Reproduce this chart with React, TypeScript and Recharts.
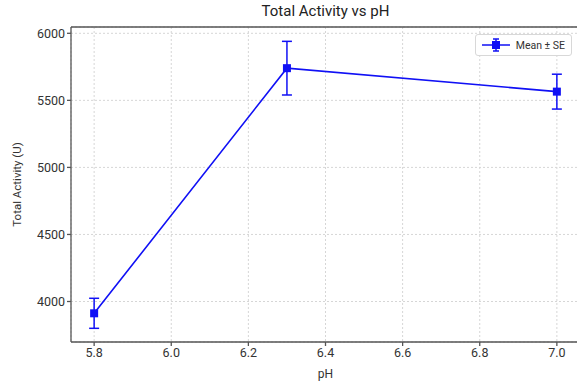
import {
  CartesianGrid,
  ErrorBar,
  Line,
  LineChart,
  ReferenceLine,
  XAxis,
  YAxis,
} from "recharts";

const phValues = [5.8, 6.3, 7.0];
const meanActivity = [3912, 5740, 5565];
const seActivity = [112, 200, 130];
const xTicks = [5.8, 6.0, 6.2, 6.4, 6.6, 6.8, 7.0];
const yTicks = [4000, 4500, 5000, 5500, 6000];
const xDomain = [5.74, 7.06];
const yDomain = [3698, 6047];

const data = phValues.map((ph, i) => ({ ph, mean: meanActivity[i], se: seActivity[i] }));

const BLUE = "#1010f5";
const FONT = "Roboto, 'Open Sans', sans-serif";

function SquareDot(props: { cx?: number; cy?: number }) {
  const { cx, cy } = props;
  if (cx == null || cy == null) return null;
  return <rect x={cx - 4} y={cy - 4} width={8} height={8} fill={BLUE} />;
}

function LegendBox() {
  return (
    <div
      style={{
        position: "absolute",
        top: 34,
        right: 5,
        display: "flex",
        alignItems: "center",
        border: "1px solid #d8d8d8",
        borderRadius: 3,
        background: "#fff",
        padding: "3px 6px",
        fontSize: 10.5,
        color: "#333",
        fontFamily: FONT,
      }}
    >
      <svg width={28} height={14} style={{ marginRight: 6 }}>
        <line x1={0} y1={7} x2={28} y2={7} stroke={BLUE} strokeWidth={1.5} />
        <line x1={14} y1={1} x2={14} y2={13} stroke={BLUE} strokeWidth={1.5} />
        <line x1={11} y1={1} x2={17} y2={1} stroke={BLUE} strokeWidth={1.5} />
        <line x1={11} y1={13} x2={17} y2={13} stroke={BLUE} strokeWidth={1.5} />
        <rect x={10} y={3} width={8} height={8} fill={BLUE} />
      </svg>
      <span>Mean ± SE</span>
    </div>
  );
}

export default function App() {
  return (
    <div style={{ position: "absolute", left: 0, top: 0, width: 577, height: 385, overflow: "hidden", background: "#fff", fontFamily: FONT }}>
      <div style={{ position: "absolute", top: 2, left: 71, width: 509, textAlign: "center", fontSize: 15, color: "#222" }}>
        Total Activity vs pH
      </div>
      <LineChart width={582} height={385} data={data} margin={{ top: 27, right: 2, left: 0, bottom: 0 }}>
        <CartesianGrid stroke="#d6d6d6" strokeDasharray="2 2" />
        <XAxis
          dataKey="ph"
          type="number"
          domain={xDomain}
          ticks={xTicks}
          tickFormatter={(v: number) => v.toFixed(1)}
          tick={{ fontSize: 12.5, fill: "#333" }}
          tickSize={4}
          stroke="#555"
          strokeWidth={1.3}
          height={43}
          label={{ value: "pH", position: "insideBottom", offset: 7, fontSize: 12, fill: "#333" }}
        />
        <YAxis
          type="number"
          domain={yDomain}
          ticks={yTicks}
          tick={{ fontSize: 12.5, fill: "#333" }}
          tickSize={4}
          stroke="#555"
          strokeWidth={1.3}
          width={71}
          label={{ value: "Total Activity (U)", angle: -90, position: "insideLeft", offset: 17, style: { textAnchor: "middle" }, fontSize: 11.5, fill: "#333" }}
        />
        <ReferenceLine y={yDomain[1]} stroke="#555" strokeWidth={1.3} />
        <Line
          type="linear"
          dataKey="mean"
          stroke={BLUE}
          strokeWidth={1.6}
          dot={<SquareDot />}
          activeDot={false}
          isAnimationActive={false}
        >
          <ErrorBar dataKey="se" direction="y" width={5} stroke={BLUE} strokeWidth={1.5} />
        </Line>
      </LineChart>
      <LegendBox />
    </div>
  );
}
